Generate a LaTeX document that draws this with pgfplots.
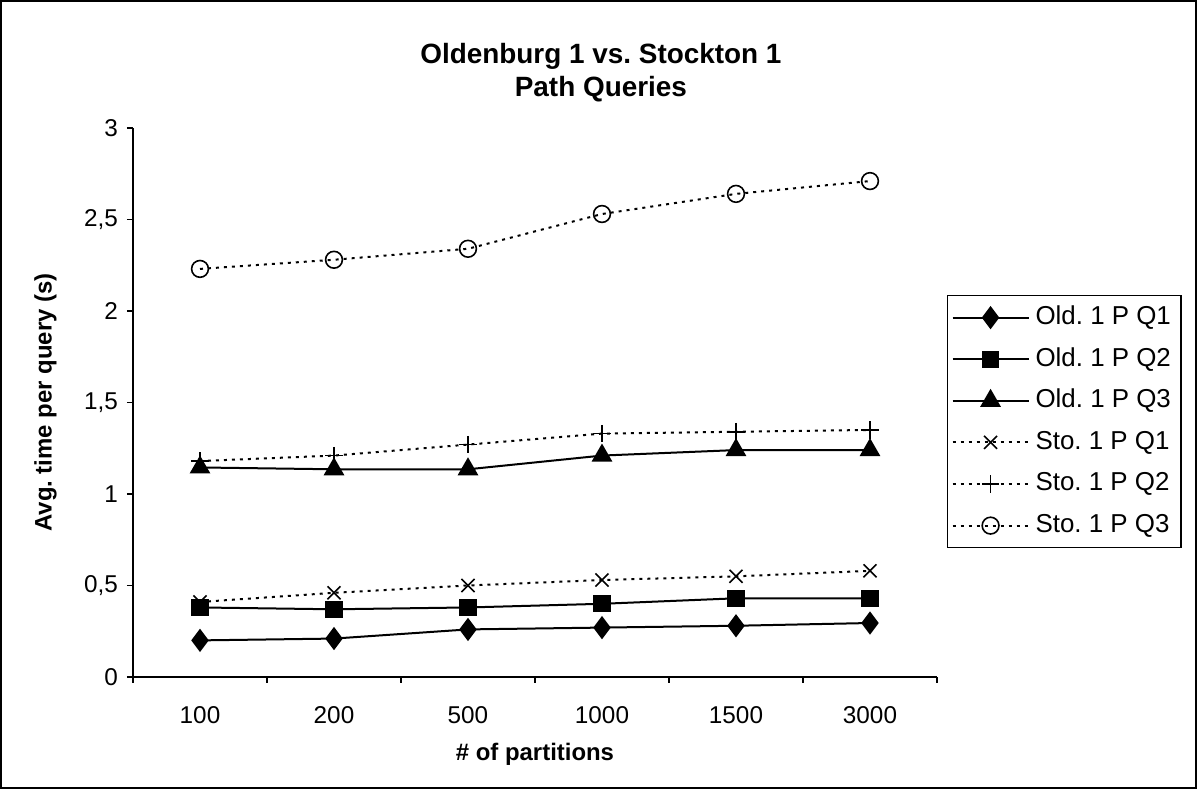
\documentclass[border=0pt]{standalone}
\usepackage{pgfplots}
\pgfplotsset{compat=1.18}
\usepackage{fontspec}
\setmainfont{Liberation Sans}
\frenchspacing

\begin{document}
\begin{tikzpicture}
\draw[line width=1bp] (0.5bp,0.5bp) rectangle (598bp,394bp);
\useasboundingbox (0bp,0bp) rectangle (598.5bp,394.5bp);
\begin{axis}[
    at={(66.5bp,56bp)}, anchor=south west,
    scale only axis, width=402bp, height=274.5bp,
    xmin=-0.5, xmax=5.5, ymin=0, ymax=3,
    axis lines=left, axis line style={-, line width=0.8bp},
    xtick={-0.5,0.5,...,5.5}, x tick label as interval,
    xticklabels={100,200,500,1000,1500,3000},
    ytick={0,0.5,...,3},
    tick align=outside, major tick length=3bp,
    tick style={black, line width=0.8bp},
    /pgf/number format/assume math mode=true,
    yticklabel style={/pgf/number format/use comma, font=\fontsize{12.2}{14}\selectfont, xshift=-1bp},
    xticklabel style={font=\fontsize{12.2}{14}\selectfont, yshift=-8bp},
    ylabel={Avg. time per query (s)},
    ylabel style={at={(axis description cs:-0.109,0.5)}, anchor=center, font=\bfseries\fontsize{12}{14}\selectfont},
    xlabel={\# of partitions},
    xlabel style={at={(axis description cs:0.5,-0.14)}, anchor=center, font=\bfseries\fontsize{12}{14}\selectfont},
    title={Oldenburg 1 vs. Stockton 1\\Path Queries},
    title style={at={(axis description cs:0.582,1.079)}, anchor=center, align=center, font=\bfseries\fontsize{14}{16.5}\selectfont},
    legend style={at={(axis description cs:1.0124,0.6958)}, anchor=north west,
        draw=black, line width=0.6bp, font=\fontsize{13}{15}\selectfont,
        nodes={inner ysep=0pt, inner xsep=3bp, text height=9.4bp, text depth=2.6bp},
        row sep=8.8bp, inner xsep=2bp, inner ysep=5bp},
    legend cell align=left,
    legend image code/.code={\draw[mark repeat=2,mark phase=2] plot coordinates {(0bp,0bp) (19bp,0bp) (38bp,0bp)};},
    every axis plot/.append style={black, line width=1bp},
]
% Oldenburg 1
\addplot[solid, mark=diamond*, mark size=5bp, mark options={solid, fill=black}] coordinates {
    (0,0.20) (1,0.21) (2,0.26) (3,0.27) (4,0.28) (5,0.295)
};
\addplot[solid, mark=square*, mark size=3.8bp, mark options={solid, fill=black}] coordinates {
    (0,0.38) (1,0.37) (2,0.38) (3,0.40) (4,0.43) (5,0.43)
};
\addplot[solid, mark=triangle*, mark size=5bp, mark options={solid, fill=black}] coordinates {
    (0,1.145) (1,1.135) (2,1.135) (3,1.21) (4,1.24) (5,1.24)
};
% Stockton 1
\addplot[dash pattern=on 1.5bp off 2.5bp, mark=x, mark size=4.6bp, mark options={solid, line width=0.8bp}] coordinates {
    (0,0.41) (1,0.46) (2,0.50) (3,0.53) (4,0.55) (5,0.58)
};
\addplot[dash pattern=on 1.5bp off 2.5bp, mark=+, mark size=4.4bp, mark options={solid, line width=0.8bp}] coordinates {
    (0,1.18) (1,1.21) (2,1.27) (3,1.33) (4,1.34) (5,1.35)
};
\addplot[dash pattern=on 1.5bp off 2.5bp, mark=o, mark size=4.2bp, mark options={solid, fill=white, line width=0.8bp}] coordinates {
    (0,2.23) (1,2.28) (2,2.34) (3,2.53) (4,2.64) (5,2.71)
};
\legend{Old. 1 P Q1, Old. 1 P Q2, Old. 1 P Q3, Sto. 1 P Q1, Sto. 1 P Q2, Sto. 1 P Q3}
\end{axis}
\end{tikzpicture}
\end{document}
